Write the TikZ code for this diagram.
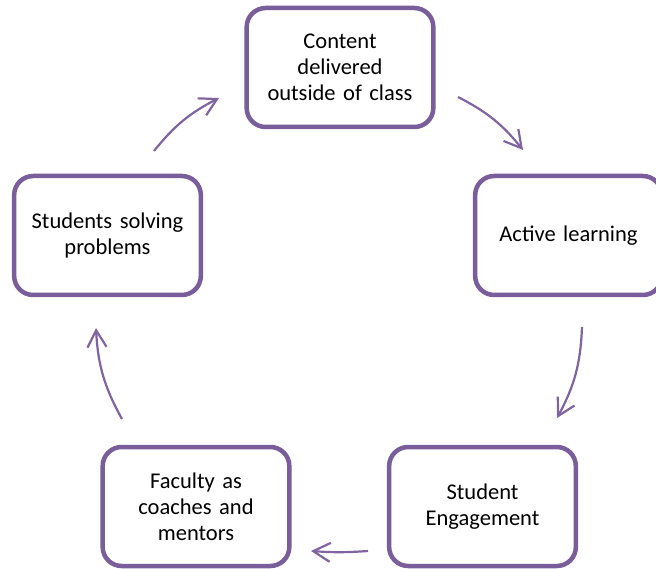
\documentclass[tikz,border=0pt]{standalone}
\usepackage{fontspec}
\setmainfont{Carlito}
\usetikzlibrary{arrows.meta}
\definecolor{boxline}{HTML}{7A5E9C}
\definecolor{flow}{HTML}{8064A2}
\newcommand{\stagefont}{\fontsize{22.5pt}{26pt}\selectfont\spaceskip=0.16em\relax}
\begin{document}
\begin{tikzpicture}[x=1pt,y=1pt,
  stage/.style={draw=boxline, line width=4.5pt, rounded corners=19pt,
    fill=white, minimum width=186pt, minimum height=119pt,
    align=center, text width=180pt, font=\stagefont},
  cycle/.style={draw=flow, line width=2.2pt,
    -{Straight Barb[length=17pt,width=19pt,line width=2.2pt]}}]
\useasboundingbox (0,0) rectangle (656,-569);

% the five stages of the cycle
\node[stage] (content) at (340,-67.5) {Content\\delivered\\outside of class};
\node[stage, minimum width=184pt] (active) at (568.5,-235.5) {Active learning};
\node[stage] (engage)  at (482.5,-506.5) {Student\\Engagement};
\node[stage] (faculty) at (196,-506.5) {Faculty as\\coaches and\\mentors};
\node[stage] (solve)   at (107.5,-235.5) {Students solving\\problems};

% arrow end points between neighbouring stages
\coordinate (a1s) at (458,-97);
\coordinate (a1e) at (523,-150);
\coordinate (a2s) at (582,-327);
\coordinate (a2e) at (557,-418);
\coordinate (a3s) at (368,-551);
\coordinate (a3e) at (311,-551);
\coordinate (a4s) at (122,-419);
\coordinate (a4e) at (96,-328);
\coordinate (a5s) at (154,-151);
\coordinate (a5e) at (219,-98);

\draw[cycle] (a1s) to[bend left=12] (a1e);
\draw[cycle] (a2s) to[bend left=13] (a2e);
\draw[cycle] (a3s) to[bend left=4] (a3e);
\draw[cycle] (a4s) to[bend left=13] (a4e);
\draw[cycle] (a5s) to[bend left=12] (a5e);
\end{tikzpicture}
\end{document}
